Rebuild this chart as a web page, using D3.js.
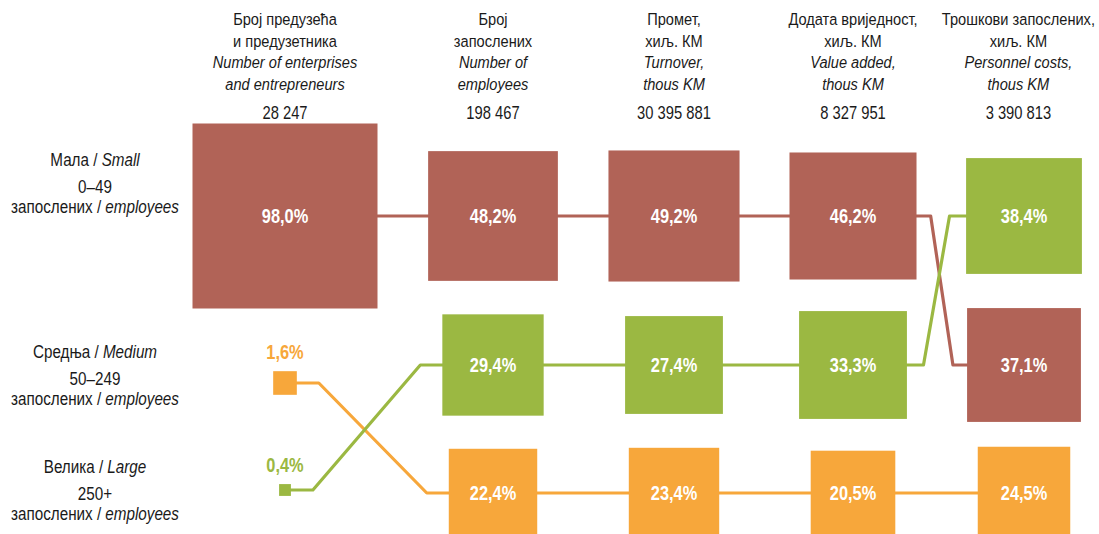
<!DOCTYPE html>
<html>
<head>
<meta charset="utf-8">
<script src="https://cdn.jsdelivr.net/npm/d3@7"></script>
<style>
  html, body { margin: 0; padding: 0; background: #fff; }
  svg { display: block; }
  text { font-family: "Liberation Sans", Arial, sans-serif; }
</style>
</head>
<body>
<svg id="chart" width="1099" height="534"></svg>
<script>
// ---------- data ----------
const columns = ["enterprises", "employees", "turnover", "valueAdded", "personnelCosts"];
const headerSr = [
  ["Број предузећа", "и предузетника"],
  ["Број", "запослених"],
  ["Промет,", "хиљ. КМ"],
  ["Додата вриједност,", "хиљ. КМ"],
  ["Трошкови запослених,", "хиљ. КМ"]
];
const headerEn = [
  ["Number of enterprises", "and entrepreneurs"],
  ["Number of", "employees"],
  ["Turnover,", "thous KM"],
  ["Value added,", "thous KM"],
  ["Personnel costs,", "thous KM"]
];
const totals = ["28 247", "198 467", "30 395 881", "8 327 951", "3 390 813"];

const classes = ["small", "medium", "large"];
const classSr = ["Мала", "Средња", "Велика"];
const classEn = ["Small", "Medium", "Large"];
const classRange = ["0–49", "50–249", "250+"];

const smallShares  = [98.0, 48.2, 49.2, 46.2, 37.1];
const mediumShares = [1.6, 22.4, 23.4, 20.5, 24.5];
const largeShares  = [0.4, 29.4, 27.4, 33.3, 38.4];
const classColors  = ["#B16357", "#F7A73B", "#9BB842"];

// ---------- layout ----------
const W = 1099, H = 534;
const svg = d3.select("#chart");

// horizontal squeeze mimics a narrow typeface
function narrowText(parent, x, y, size, sx) {
  return parent.append("text")
    .attr("transform", `translate(${x},${y}) scale(${sx},1)`)
    .attr("text-anchor", "middle")
    .attr("font-size", size)
    .attr("data-sx", sx);
}

const series = classes.map((c, i) => ({
  key: c, color: classColors[i],
  values: [smallShares, mediumShares, largeShares][i]
}));

// rank (row) of each series at each column
columns.forEach((col, ci) => {
  const order = series.slice().sort((a, b) => b.values[ci] - a.values[ci]);
  order.forEach((s, r) => { (s.rows = s.rows || [])[ci] = r; });
});

const x = d3.scaleOrdinal().domain(columns).range([285, 493, 674, 853, 1024]);
const y = d3.scaleOrdinal().domain([0, 1, 2]).range([216, 365, 493]);
const side = d3.scaleSqrt().domain([0, 98]).range([0, 185]);
const tinyLimit = 30;              // squares smaller than this carry the label above
const tinyShift = [0, 18, -3];     // vertical nudge of small squares per row
const fmt = v => d3.format(".1f")(v).replace(".", ",") + "%";

// nodes
const nodes = [];
series.forEach(s => {
  columns.forEach((col, ci) => {
    const v = s.values[ci];
    const sz = side(v);
    const r = s.rows[ci];
    const tiny = sz < tinyLimit;
    nodes.push({
      s, ci, v, sz, r, tiny,
      cx: x(col),
      cy: y(r) + (tiny ? tinyShift[r] : 0)
    });
  });
});

// ---------- lines ----------
const lineG = svg.append("g");
series.forEach(s => {
  const ns = nodes.filter(n => n.s === s);
  const path = d3.path();
  path.moveTo(ns[0].cx, ns[0].cy);
  for (let i = 1; i < ns.length; i++) {
    const a = ns[i - 1], b = ns[i];
    if (Math.abs(a.cy - b.cy) < 0.5) {
      path.lineTo(b.cx, b.cy);
    } else {
      const ax = a.cx + a.sz / 2, bx = b.cx - b.sz / 2;
      const g = Math.min(22, 0.28 * (bx - ax));
      path.lineTo(ax + g, a.cy);
      path.lineTo(bx - g, b.cy);
      path.lineTo(b.cx, b.cy);
    }
  }
  lineG.append("path")
    .attr("d", path.toString())
    .attr("fill", "none")
    .attr("stroke", s.color)
    .attr("stroke-width", 3.2)
    .attr("stroke-linejoin", "round");
});

// ---------- squares ----------
const sqG = svg.append("g");
nodes.forEach(d => {
  sqG.append("rect")
    .attr("x", d.cx - d.sz / 2)
    .attr("y", d.cy - d.sz / 2)
    .attr("width", d.sz)
    .attr("height", d.sz)
    .attr("fill", d.s.color);
  narrowText(sqG, d.cx, d.tiny ? d.cy - d.sz / 2 - 12 : d.cy + 7, 20, 0.82)
    .attr("font-weight", "bold")
    .attr("fill", d.tiny ? d.s.color : "#fff")
    .text(fmt(d.v));
});

// ---------- column headers ----------
const headG = svg.append("g");
columns.forEach((col, ci) => {
  const g = headG.append("g");
  const lines = [
    { t: headerSr[ci][0], it: false, yy: 25 },
    { t: headerSr[ci][1], it: false, yy: 47 },
    { t: headerEn[ci][0], it: true, yy: 68 },
    { t: headerEn[ci][1], it: true, yy: 90 }
  ];
  lines.forEach(l => {
    narrowText(g, 0, l.yy, 17, 0.86)
      .attr("font-style", l.it ? "italic" : "normal")
      .attr("fill", "#1a1a1a").text(l.t);
  });
  narrowText(g, 0, 119, 18, 0.82).attr("fill", "#1a1a1a").text(totals[ci]);
  // keep header inside the canvas
  let maxW = 0;
  g.selectAll("text").each(function () {
    maxW = Math.max(maxW, this.getComputedTextLength() * (+this.getAttribute("data-sx")));
  });
  const cx = Math.min(x(col), W - maxW / 2 - 4);
  g.attr("transform", `translate(${cx},0)`);
});

// ---------- row labels ----------
const rowLabelY = [166, 358, 473];
const rowG = svg.append("g");
classes.forEach((c, i) => {
  const t1 = narrowText(rowG, 95, rowLabelY[i], 17.5, 0.87).attr("fill", "#1a1a1a");
  t1.append("tspan").text(classSr[i] + " / ");
  t1.append("tspan").attr("font-style", "italic").text(classEn[i]);
  narrowText(rowG, 95, rowLabelY[i] + 27, 17.5, 0.87).attr("fill", "#1a1a1a").text(classRange[i]);
  const t3 = narrowText(rowG, 95, rowLabelY[i] + 47, 17.5, 0.87).attr("fill", "#1a1a1a");
  t3.append("tspan").text("запослених / ");
  t3.append("tspan").attr("font-style", "italic").text("employees");
});
</script>
</body>
</html>
